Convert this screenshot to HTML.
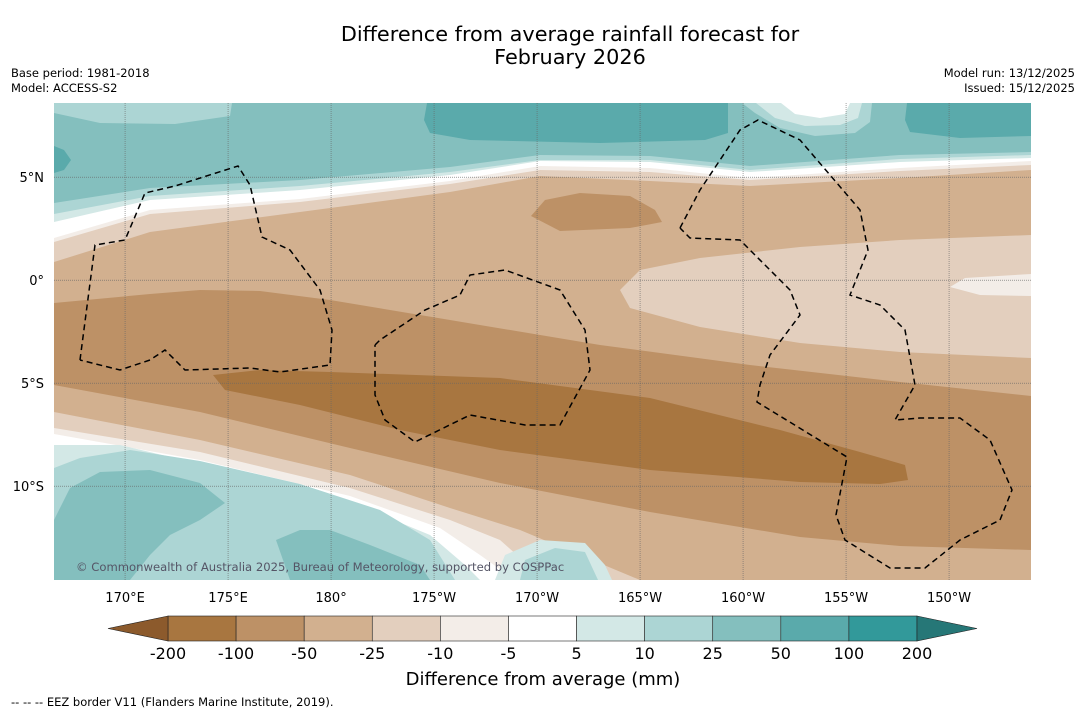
<!DOCTYPE html>
<html><head><meta charset="utf-8">
<style>
body{margin:0;background:#fff;font-family:"DejaVu Sans","Liberation Sans",sans-serif;}
svg text{font-family:"DejaVu Sans","Liberation Sans",sans-serif;}
</style></head>
<body>
<svg id="chart" width="1085" height="713" viewBox="0 0 1085 713" xmlns="http://www.w3.org/2000/svg">
<rect width="1085" height="713" fill="#fff"/>
<text x="570" y="41" font-size="20.8" text-anchor="middle">Difference from average rainfall forecast for</text>
<text x="570" y="64" font-size="20.8" text-anchor="middle">February 2026</text>
<text x="11" y="77" font-size="11.5">Base period: 1981-2018</text>
<text x="11" y="92" font-size="11.5">Model: ACCESS-S2</text>
<text x="1075" y="77" font-size="11.5" text-anchor="end">Model run: 13/12/2025</text>
<text x="1075" y="92" font-size="11.5" text-anchor="end">Issued: 15/12/2025</text>
<defs><clipPath id="mapclip"><rect x="54" y="103" width="977" height="477"/></clipPath></defs>
<g id="map" clip-path="url(#mapclip)"></g>
<g id="cbar"></g>
<text x="543" y="685" font-size="18" text-anchor="middle">Difference from average (mm)</text>
<text x="11" y="706" font-size="11.5">--  --  -- EEZ border V11 (Flanders Marine Institute, 2019).</text>
</svg>
<script>
const NS="http://www.w3.org/2000/svg";
const levels=["-200","-100","-50","-25","-10","-5","5","10","25","50","100","200"];
const colors=["#a87640","#bd9166","#d2b08f","#e3cfbe","#f3ede8","#ffffff","#d3e8e6","#acd5d4","#84bfbe","#5aaaab","#32999a"];
const lowColor="#8c5a2c", highColor="#267777";
const lonTicks=[170,175,180,-175,-170,-165,-160,-155,-150];
const lonLabels=["170°E","175°E","180°","175°W","170°W","165°W","160°W","155°W","150°W"];
const latTicks=[5,0,-5,-10];
const latLabels=["5°N","0°","5°S","10°S"];
const lon0=166.55, lat0=8.6, pxPerDeg=20.6, mapX=54, mapY=103;
function lx(lon){let l=lon<0?lon+360:lon;return mapX+(l-lon0)*pxPerDeg;}
function ly(lat){return mapY+(lat0-lat)*pxPerDeg;}
const C={n50:colors[2],n25:colors[3],n10:colors[4],w:colors[5],p5:colors[6],p10:colors[7],p25:colors[8],p50:colors[9],n100:colors[1],n200:colors[0]};
const map=document.getElementById('map');
function poly(pts,fill,name){const p=document.createElementNS(NS,'polygon');p.setAttribute('points',pts.map(a=>a.join(',')).join(' '));p.setAttribute('fill',fill);


map.appendChild(p);}
function topBand(ys,fill,name){const xs=[54,150,300,450,540,650,750,900,1031];const pts=[[54,103],[1031,103]];for(let i=xs.length-1;i>=0;i--)pts.push([xs[i],ys[i]]);poly(pts,fill,name);}
poly([[54,103],[1031,103],[1031,580],[54,580]],C.n50,'band-minus50');
topBand([262,232,212,192,176,181,186,178,170],C.n25,'band-minus25-north');
topBand([242,214,202,184,170,172,180,171,165],C.n10,'band-minus10-north');
topBand([238,210,199,181,166,168,178,168,161],C.w,'band-neutral-north');
topBand([222,200,190,175,161,162,172,162,158],C.p5,'band-5-north');
topBand([214,196,186,172,160,160,170,159,155],C.p10,'band-10-north');
topBand([203,188,180,167,155,156,166,155,152],C.p25,'band-25-north');
poly([[54,103],[232,103],[230,116],[175,124],[100,123],[54,113]],C.p10,'band-10-nw');
poly([[427,103],[728,103],[728,133],[705,140],[600,143],[470,140],[430,133],[424,120]],C.p50,'band-50-north');
poly([[907,103],[1031,103],[1031,136],[960,138],[910,132],[905,120]],C.p50,'band-50-ne');
poly([[54,146],[64,150],[71,160],[64,170],[54,173]],C.p50,'band-50-west');
poly([[742,103],[872,103],[870,122],[855,133],[815,136],[780,128],[755,113]],C.p10,'band-10-top');
poly([[756,103],[862,103],[858,118],[840,125],[805,126],[775,118]],C.p5,'band-5-top');
poly([[781,103],[850,103],[845,114],[820,118],[795,114]],C.w,'band-neutral-top');
poly([[531,216],[545,200],[580,193],[630,196],[655,210],[662,222],[630,228],[560,231]],C.n100,'band-minus100-patch');
poly([[620,290],[640,270],[700,258],[800,247],[900,240],[1031,235],[1031,358],[900,352],[800,343],[700,327],[630,308]],C.n25,'band-minus25-east');
poly([[950,287],[965,278],[1031,274],[1031,296],[980,295]],C.n10,'band-minus10-east');
poly([[54,303],[150,294],[200,290],[260,291],[330,300],[450,320],[600,345],[750,365],[900,382],[1031,396],[1031,550],[900,546],[800,537],[650,512],[500,483],[350,448],[200,412],[54,385]],C.n100,'band-minus100');
poly([[213,375],[260,370],[330,372],[500,378],[650,398],[780,430],[860,452],[905,465],[908,480],[880,484],[800,482],[650,470],[500,450],[400,430],[300,405],[225,390]],C.n200,'band-minus200');
function southBand(pts,fill,name){poly([[54,580]].concat(pts).concat([[pts[pts.length-1][0],580]]),fill,name);}
southBand([[54,412],[200,440],[350,475],[450,508],[520,530],[580,555],[640,580]],C.n25,'band-minus25-south');
southBand([[54,428],[200,452],[350,488],[450,520],[500,540],[545,580]],C.n10,'band-minus10-south');
southBand([[54,434],[200,460],[350,496],[440,528],[480,555],[515,580]],C.w,'band-neutral-south');
southBand([[54,445],[120,445],[200,464],[350,502],[430,535],[465,565],[480,580]],C.p5,'band-5-south');
southBand([[54,468],[80,458],[130,450],[200,461],[300,484],[380,510],[430,540],[455,580]],C.p10,'band-10-south');
poly([[495,580],[505,555],[540,540],[585,543],[605,565],[612,580]],C.p5,'band-5-islet');
poly([[520,580],[525,560],[555,548],[585,552],[598,580]],C.p10,'band-10-islet');
poly([[54,520],[70,488],[100,472],[150,470],[200,483],[225,503],[200,520],[170,535],[150,555],[130,580],[54,580]],C.p25,'band-25-sw');
poly([[276,540],[300,530],[330,530],[370,545],[420,565],[430,580],[290,580]],C.p25,'band-25-south');
lonTicks.forEach((t,i)=>{const x=lx(t);const l=document.createElementNS(NS,'line');l.setAttribute('x1',x);l.setAttribute('x2',x);l.setAttribute('y1',103);l.setAttribute('y2',580);l.setAttribute('stroke','#666');l.setAttribute('stroke-width','0.6');l.setAttribute('stroke-dasharray','1,1');


map.appendChild(l);
const tx=document.createElementNS(NS,'text');tx.setAttribute('x',x);tx.setAttribute('y',602);tx.setAttribute('font-size','13');tx.setAttribute('text-anchor','middle');tx.textContent=lonLabels[i];


document.getElementById('chart').appendChild(tx);});
latTicks.forEach((t,i)=>{const y=ly(t);const l=document.createElementNS(NS,'line');l.setAttribute('x1',54);l.setAttribute('x2',1031);l.setAttribute('y1',y);l.setAttribute('y2',y);l.setAttribute('stroke','#666');l.setAttribute('stroke-width','0.6');l.setAttribute('stroke-dasharray','1,1');


map.appendChild(l);
const tx=document.createElementNS(NS,'text');tx.setAttribute('x',44);tx.setAttribute('y',y+5);tx.setAttribute('font-size','13');tx.setAttribute('text-anchor','end');tx.textContent=latLabels[i];


document.getElementById('chart').appendChild(tx);});
function dash(pts,name){const p=document.createElementNS(NS,'polyline');p.setAttribute('points',pts.map(a=>a.join(',')).join(' '));p.setAttribute('fill','none');p.setAttribute('stroke','#000');p.setAttribute('stroke-width','1.5');p.setAttribute('stroke-dasharray','6,4');


map.appendChild(p);}
dash([[80,360],[95,245],[125,240],[145,193],[175,186],[238,166],[250,185],[262,237],[290,250],[320,290],[332,330],[330,365],[280,372],[250,368],[185,370],[165,350],[150,360],[120,370],[80,360]],'eez-border-tuvalu');
dash([[375,345],[380,340],[425,310],[460,295],[470,275],[505,270],[560,290],[585,330],[590,370],[560,425],[525,425],[470,415],[415,442],[385,420],[375,395],[375,345]],'eez-border-tokelau');
dash([[680,228],[700,190],[740,130],[758,120],[800,140],[830,175],[860,210],[868,250],[850,295],[880,305],[905,330],[915,385],[895,420],[920,418],[960,418],[990,440],[1012,490],[1000,520],[960,540],[925,568],[890,568],[845,540],[836,515],[847,457],[757,402],[760,385],[770,355],[800,315],[790,290],[740,240],[690,238],[680,228]],'eez-border-kiribati');
const cp=document.createElementNS(NS,'text');cp.setAttribute('x',76);cp.setAttribute('y',571);cp.setAttribute('font-size','11.6');cp.setAttribute('fill','#556');cp.textContent='© Commonwealth of Australia 2025, Bureau of Meteorology, supported by COSPPac';


map.appendChild(cp);
const cb=document.getElementById('cbar');const cbX=168,cbW=749,cbY=616,cbH=25,seg=cbW/colors.length;
colors.forEach((c,i)=>{const r=document.createElementNS(NS,'rect');r.setAttribute('x',cbX+i*seg);r.setAttribute('y',cbY);r.setAttribute('width',seg);r.setAttribute('height',cbH);r.setAttribute('fill',c);r.setAttribute('stroke','#222');r.setAttribute('stroke-width','0.6');


cb.appendChild(r);});
levels.forEach((lv,i)=>{const t=document.createElementNS(NS,'text');t.setAttribute('x',cbX+i*seg);t.setAttribute('y',659);t.setAttribute('font-size','16');t.setAttribute('text-anchor','middle');t.textContent=lv;


cb.appendChild(t);});
const lt=document.createElementNS(NS,'polygon');lt.setAttribute('points',`${cbX},${cbY} ${cbX-60},${cbY+cbH/2} ${cbX},${cbY+cbH}`);lt.setAttribute('fill',lowColor);lt.setAttribute('stroke','#222');lt.setAttribute('stroke-width','0.6');


cb.appendChild(lt);
const rt=document.createElementNS(NS,'polygon');rt.setAttribute('points',`${cbX+cbW},${cbY} ${cbX+cbW+60},${cbY+cbH/2} ${cbX+cbW},${cbY+cbH}`);rt.setAttribute('fill',highColor);rt.setAttribute('stroke','#222');rt.setAttribute('stroke-width','0.6');


cb.appendChild(rt);
</script>
</body></html>
